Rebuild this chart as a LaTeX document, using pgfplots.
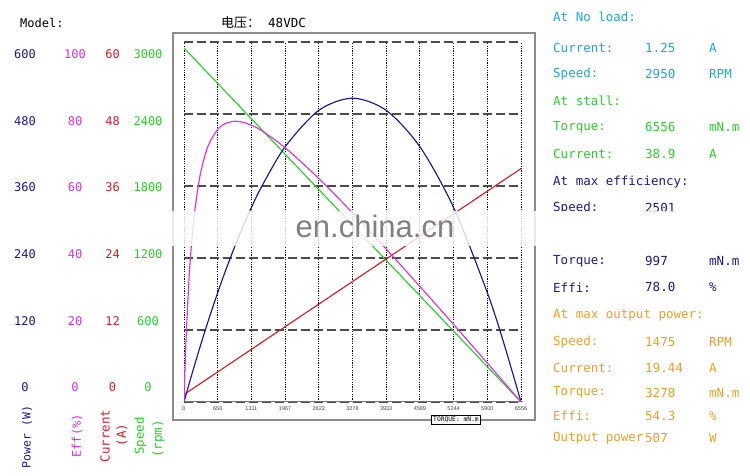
\documentclass[border=0pt]{standalone}
\usepackage{pgfplots}
\usepackage{pgfplotstable}
\pgfplotsset{compat=1.18}
\usepackage{fontspec}
\setmainfont{DejaVu Sans}
\newfontfamily\monofont{DejaVu Sans Mono}
\newfontfamily\cjk{Noto Sans CJK SC}
\newfontfamily\wmfont{Liberation Sans}

\definecolor{powc}{RGB}{25,25,145}
\definecolor{effc}{RGB}{220,50,220}
\definecolor{curc}{RGB}{205,35,40}
\definecolor{spdc}{RGB}{45,205,45}
\definecolor{cyanc}{RGB}{35,165,215}
\definecolor{orangec}{RGB}{235,160,40}

% torque (mN.m), speed (rpm), current (A), output power (W), efficiency (%)
\pgfplotstableread{
T     n       I      P       E
0     2950.0  1.25   0.00    0.00
25    2938.8  1.39   7.69    11.50
50    2927.5  1.54   15.33   20.78
100   2905.0  1.82   30.42   34.74
150   2882.5  2.11   45.28   44.68
200   2860.0  2.40   59.90   52.03
300   2815.0  2.97   88.44   61.97
400   2770.0  3.55   116.03  68.15
500   2725.0  4.12   142.68  72.12
656   2654.8  5.02   182.37  75.73
800   2590.0  5.84   216.98  77.35
997   2501.4  6.98   261.15  78.00
1200  2410.0  8.14   302.85  77.50
1311  2360.1  8.78   324.01  76.89
1500  2275.0  9.86   357.36  75.47
1967  2064.9  12.55  425.34  70.63
2622  1770.2  16.31  486.06  62.09
3278  1475.0  20.08  506.33  52.55
3933  1180.3  23.84  486.12  42.49
4589  885.1   27.60  425.35  32.10
5244  590.4   31.37  324.22  21.54
5900  295.2   35.13  182.39  10.82
6228  147.6   37.02  96.26   5.42
6556  0.0     38.90  0.00    0.00
}\motordata

\begin{document}
\begin{tikzpicture}[x=1pt,y=1pt]
\useasboundingbox (0,0) rectangle (750,476);

\begin{scope}[shift={(0,476)}, y=-1pt]
  \draw[black!45, line width=1.3pt] (173,33) rectangle (535,420);
\end{scope}

\begin{axis}[
  at={(184pt,74pt)}, anchor=south west,
  scale only axis, width=337pt, height=360pt,
  xmin=0, xmax=6556, ymin=0, ymax=3000,
  xtick={0,656,1311,1967,2622,3278,3933,4589,5244,5900,6556},
  xticklabels={0,656,1311,1967,2622,3278,3933,4589,5244,5900,6556},
  scaled x ticks=false,
  ytick={0,600,...,3000}, yticklabels={},
  major tick length=0pt,
  axis line style={draw=none},
  grid=major,
  x grid style={black, line width=0.9pt, dash pattern=on 1.2pt off 1.2pt},
  y grid style={black!70, line width=1.2pt, dash pattern=on 9pt off 4pt},
  xticklabel style={font=\wmfont\fontsize{5.5}{6}\selectfont, text=black!75, yshift=-1pt},
]
\draw[black!55, line width=1.1pt] (axis cs:0,0) -- (axis cs:6556,0);
\addplot[spdc, line width=1.15pt] table[x=T, y=n] {\motordata};
\addplot[curc, line width=1.15pt] table[x=T, y expr=\thisrow{I}*50] {\motordata};
\addplot[powc, line width=1.15pt, smooth] table[x=T, y expr=\thisrow{P}*5] {\motordata};
\addplot[effc, line width=1.15pt, smooth] table[x=T, y expr=\thisrow{E}*30] {\motordata};
\end{axis}

\begin{scope}[shift={(0,476)}, y=-1pt, every node/.style={inner sep=0pt}]
  % header
  \node[anchor=west, font=\monofont\fontsize{12}{14}\selectfont] at (20,23) {Model:};
  \node[anchor=west, font=\cjk\fontsize{13}{15}\selectfont] at (221,23) {电压：};
  \node[anchor=west, font=\monofont\fontsize{12.5}{14}\selectfont] at (268,23) {48VDC};

  % left scales
  \begin{scope}[every node/.append style={font=\monofont\fontsize{12}{14}\selectfont}]
    \foreach \v/\y in {600/54,480/120.7,360/187.3,240/254,120/320.7,0/387.3}
      \node[text=powc] at (25,\y) {\v};
    \foreach \v/\y in {100/54,80/120.7,60/187.3,40/254,20/320.7,0/387.3}
      \node[text=effc] at (75,\y) {\v};
    \foreach \v/\y in {60/54,48/120.7,36/187.3,24/254,12/320.7,0/387.3}
      \node[text=curc] at (112.5,\y) {\v};
    \foreach \v/\y in {3000/54,2400/120.7,1800/187.3,1200/254,600/320.7,0/387.3}
      \node[text=spdc] at (148,\y) {\v};
  \end{scope}

  % rotated scale titles
  \node[rotate=90, text=powc, font=\monofont\fontsize{11.5}{13}\selectfont] at (27,437) {Power (W)};
  \node[rotate=90, text=effc, font=\monofont\fontsize{12}{13}\selectfont] at (77,436) {Eff(\%)};
  \node[rotate=90, text=curc, font=\monofont\fontsize{12.5}{14}\selectfont] at (105,436) {Current};
  \node[rotate=90, text=curc, font=\monofont\fontsize{12.5}{14}\selectfont] at (122,435) {(A)};
  \node[rotate=90, text=spdc, font=\monofont\fontsize{12.5}{14}\selectfont] at (140.5,436) {Speed};
  \node[rotate=90, text=spdc, font=\monofont\fontsize{12.5}{14}\selectfont] at (158.5,439) {(rpm)};

  % x axis title box
  \node[draw=black, line width=0.5pt, fill=white, inner sep=1.5pt,
        font=\monofont\fontsize{6.3}{7}\selectfont] at (456,420) {TORQUE: mN.m};

  % right-hand data block
  \begin{scope}[every node/.append style={anchor=west, font=\monofont\fontsize{12.5}{14}\selectfont}]
    \node[text=cyanc] at (553,16.7) {At No load:};
    \node[text=cyanc] at (553,48.3) {Current:};
    \node[text=cyanc] at (645,48.3) {1.25};
    \node[text=cyanc] at (709,48.3) {A};
    \node[text=cyanc] at (553,74) {Speed:};
    \node[text=cyanc] at (645,74) {2950};
    \node[text=cyanc] at (709,74) {RPM};

    \node[text=spdc] at (553,100.7) {At stall:};
    \node[text=spdc] at (553,127.3) {Torque:};
    \node[text=spdc] at (645,127.3) {6556};
    \node[text=spdc] at (709,127.3) {mN.m};
    \node[text=spdc] at (553,154) {Current:};
    \node[text=spdc] at (645,154) {38.9};
    \node[text=spdc] at (709,154) {A};

    \node[text=powc] at (553,181.7) {At max efficiency:};
    \node[text=powc] at (553,208) {Speed:};
    \node[text=powc] at (645,208) {2501};
    \node[text=powc] at (553,261) {Torque:};
    \node[text=powc] at (645,261) {997};
    \node[text=powc] at (709,261) {mN.m};
    \node[text=powc] at (553,287.3) {Effi:};
    \node[text=powc] at (645,287.3) {78.0};
    \node[text=powc] at (709,287.3) {\%};

    \node[text=orangec] at (553,315) {At max output power:};
    \node[text=orangec] at (553,341.7) {Speed:};
    \node[text=orangec] at (645,341.7) {1475};
    \node[text=orangec] at (709,341.7) {RPM};
    \node[text=orangec] at (553,367.7) {Current:};
    \node[text=orangec] at (645,367.7) {19.44};
    \node[text=orangec] at (709,367.7) {A};
    \node[text=orangec] at (553,392.7) {Torque:};
    \node[text=orangec] at (645,392.7) {3278};
    \node[text=orangec] at (709,392.7) {mN.m};
    \node[text=orangec] at (553,416) {Effi:};
    \node[text=orangec] at (645,416) {54.3};
    \node[text=orangec] at (709,416) {\%};
    \node[text=orangec] at (553,438.3) {Output power};
    \node[text=orangec] at (645,438.3) {507};
    \node[text=orangec] at (709,438.3) {W};
  \end{scope}

  % watermark band
  \fill[white, opacity=0.82] (0,211) rectangle (750,246);
  \node[anchor=base, text=black!50, font=\wmfont\fontsize{31}{34}\selectfont] at (375,238) {en.china.cn};
\end{scope}
\end{tikzpicture}
\end{document}
